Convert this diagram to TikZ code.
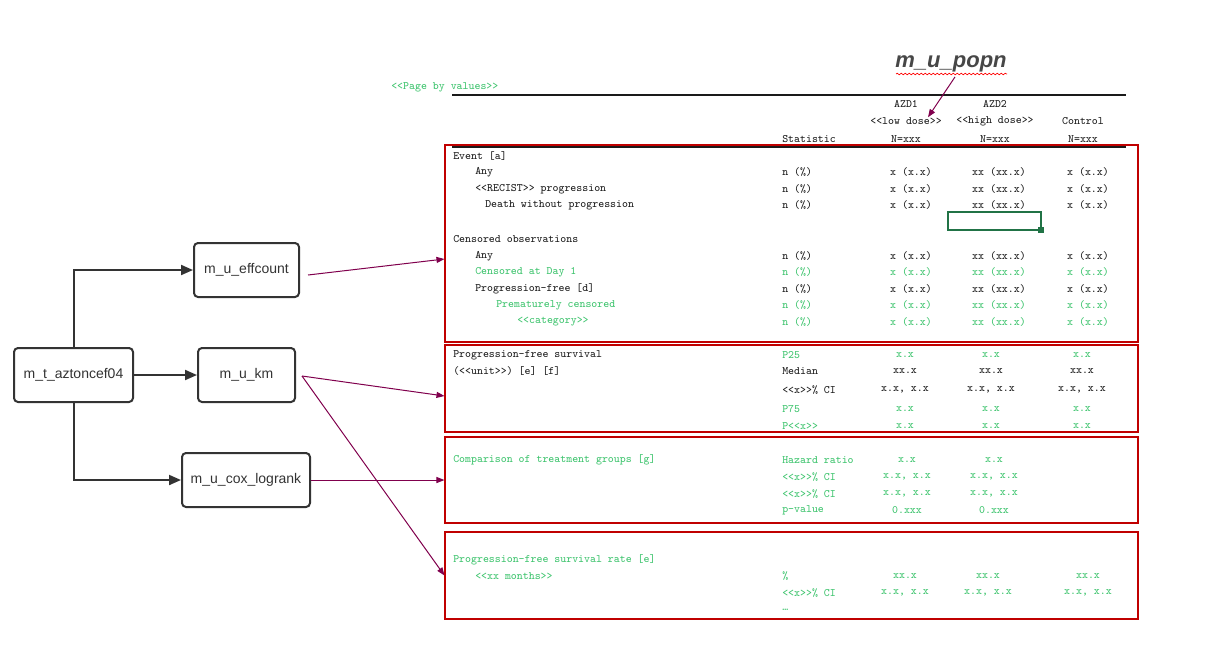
\documentclass[tikz,border=0pt]{standalone}
\usepackage{fontspec}
\setmainfont{Liberation Sans}
\usepackage{xcolor}
\usepackage{tikz}
\usetikzlibrary{
    positioning,
    arrows.meta,
    decorations.pathmorphing,
}
\definecolor{boxred}{HTML}{C00000}
\definecolor{linkpurple}{HTML}{80004D}
\definecolor{textgreen}{HTML}{3CC36C}
\definecolor{textblack}{HTML}{1A1A1A}
\definecolor{flowgray}{HTML}{333333}
\definecolor{cellgreen}{HTML}{217346}
\tikzset{
    % Macro boxes
    macro/.style={rectangle, draw=flowgray, line width=1.5pt, rounded corners=3pt,
                  minimum height=40.5pt, font=\fontsize{10.5}{12}\selectfont, text=flowgray},
    % Table text
    tab/.style={font=\ttfamily\fontsize{8.5}{10}\selectfont, text=textblack, inner sep=0pt},
    tabl/.style={tab, anchor=west},
    gtab/.style={tab, text=textgreen},
    gtabl/.style={tabl, text=textgreen},
    % Section frames
    section frame/.style={rectangle, draw=boxred, line width=0.8pt, minimum width=519.75pt},
    % Arrow styles
    call/.style={-{Triangle[length=9pt, width=7.5pt]}, draw=flowgray, line width=1.5pt},
    link/.style={-{Triangle[length=6pt, width=4.5pt]}, draw=linkpurple, line width=0.75pt},
    rule/.style={line width=1.5pt, draw=textblack},
}

\begin{document}
\begin{tikzpicture}[x=0.75pt, y=-0.75pt]
    \useasboundingbox (0,0) rectangle (1219,644);

    % Macro call tree
    \node[macro, minimum width=89.25pt] (top) at (73.5,375) {m\_t\_aztoncef04};
    \node[macro, minimum width=78.75pt] (eff) at (246.5,270) {m\_u\_effcount};
    \node[macro, minimum width=72.75pt] (km) at (246.5,375) {m\_u\_km};
    \node[macro, minimum width=96pt] (cox) at (246,480) {m\_u\_cox\_logrank};
    \draw[call] (top.north) |- (eff.west);
    \draw[call] (top.east) -- (km.west);
    \draw[call] (top.south) |- (cox.west);

    % Section frames
    \node[section frame, minimum height=147.75pt] (evt) at (791.5,243.5) {};
    \node[section frame, minimum height=65.25pt] (pfs) at (791.5,388.5) {};
    \node[section frame, minimum height=64.5pt] (cmp) at (791.5,480) {};
    \node[section frame, minimum height=65.25pt] (rate) at (791.5,575.5) {};

    % Links to sections
    \draw[link] ([shift={(8,5)}]eff.east) -- ([shift={(0,15.5)}]evt.west);
    \draw[link] ([shift={(6,1)}]km.east) -- ([shift={(0,7.5)}]pfs.west);
    \draw[link] ([shift={(6,1)}]km.east) -- (rate.west);
    \draw[link] (cox.east) -- (cmp.west);

    % Header
    \node[font=\bfseries\itshape\fontsize{16.5}{18}\selectfont, text=flowgray!90] (popn) at (951,64) {m\_u\_popn};
    \draw[red, line width=0.5pt, decorate, decoration={snake, amplitude=0.6pt, segment length=3pt}]
        (896,74) -- (1007,74);
    \node[gtabl] (pageby) at (391,87) {<<Page by values>>};
    \draw[rule] (452,95) -- (1126,95);
    \node[tab] (azd1) at (906,104) {AZD1};
    \node[tab] (azd2) at (995,104) {AZD2};
    \node[tab] (low) at (906,121) {<<low dose>>};
    \node[tab] (high) at (995,121) {<<high dose>>};
    \node[tab] (ctrl) at (1083,121) {Control};
    \node[tabl] (stat) at (782,139) {Statistic};
    \foreach \x [count=\i] in {906,995,1083}
        \node[tab] (n\i) at (\x,139) {N=xxx};
    \draw[rule] (452,147) -- (1126,147);
    \draw[link] ([xshift=3pt]popn.south) -- ([xshift=16.5pt]low.north);

    % Events and censoring
    \foreach \y/\x/\txt/\st [count=\i] in {156/453/{Event [a]}/tabl, 172/475/Any/tabl,
        189/475/{<<RECIST>> progression}/tabl, 205/485/{Death without progression}/tabl,
        239/453/{Censored observations}/tabl, 256/475/Any/tabl,
        272/475/{Censored at Day 1}/gtabl, 289/475/{Progression-free [d]}/tabl,
        305/496/{Prematurely censored}/gtabl, 322/517/{<<category>>}/gtabl}
        \node[\st] (ev\i) at (\x,\y) {\txt};
    \foreach \y/\st [count=\i] in {172/tab, 189/tab, 205/tab, 256/tab, 272/gtab, 289/tab, 305/gtab, 322/gtab} {
        \node[\st, anchor=west] (evs\i) at (782,\y) {n (\%)};
        \node[\st] (eva\i) at (911,\y) {x (x.x)};
        \node[\st] (evb\i) at (999,\y) {xx (xx.x)};
        \node[\st] (evc\i) at (1088,\y) {x (x.x)};
    }
    \draw[cellgreen, line width=1.5pt] (948,212) rectangle (1041,230);
    \fill[cellgreen] (1038,227) rectangle (1044,233);

    % Progression-free survival
    \node[tabl] (pfs1) at (453,355) {Progression-free survival};
    \node[tabl] (pfs2) at (453,371) {(<<unit>>) [e] [f]};
    \foreach \y/\s/\v/\st [count=\i] in {355/P25/x.x/gtab, 371/Median/xx.x/tab,
        390/{<<x>>\% CI}/{x.x, x.x}/tab, 409/P75/x.x/gtab, 426/{P<<x>>}/x.x/gtab} {
        \node[\st, anchor=west] (pfss\i) at (782,\y) {\s};
        \node[\st] (pfsa\i) at (905,\y) {\v};
        \node[\st] (pfsb\i) at (991,\y) {\v};
        \node[\st] (pfsc\i) at (1082,\y) {\v};
    }

    % Treatment comparison
    \node[gtabl] (cmp1) at (453,460) {Comparison of treatment groups [g]};
    \foreach \y/\s/\v [count=\i] in {460/{Hazard ratio}/x.x, 477/{<<x>>\% CI}/{x.x, x.x},
        494/{<<x>>\% CI}/{x.x, x.x}, 510/p-value/0.xxx} {
        \node[gtabl] (cmps\i) at (782,\y) {\s};
        \node[gtab] (cmpa\i) at (907,\y) {\v};
        \node[gtab] (cmpb\i) at (994,\y) {\v};
    }

    % Survival rate
    \node[gtabl] (rate1) at (453,560) {Progression-free survival rate [e]};
    \node[gtabl] (rate2) at (475,576) {<<xx months>>};
    \foreach \y/\s/\v [count=\i] in {576/\%/xx.x, 593/{<<x>>\% CI}/{x.x, x.x}} {
        \node[gtabl] (rates\i) at (782,\y) {\s};
        \node[gtab] (ratea\i) at (905,\y) {\v};
        \node[gtab] (rateb\i) at (988,\y) {\v};
        \node[gtab] (ratec\i) at (1088,\y) {\v};
    }
    \node[gtabl] (rate3) at (782,610) {\ldots};
\end{tikzpicture}
\end{document}
